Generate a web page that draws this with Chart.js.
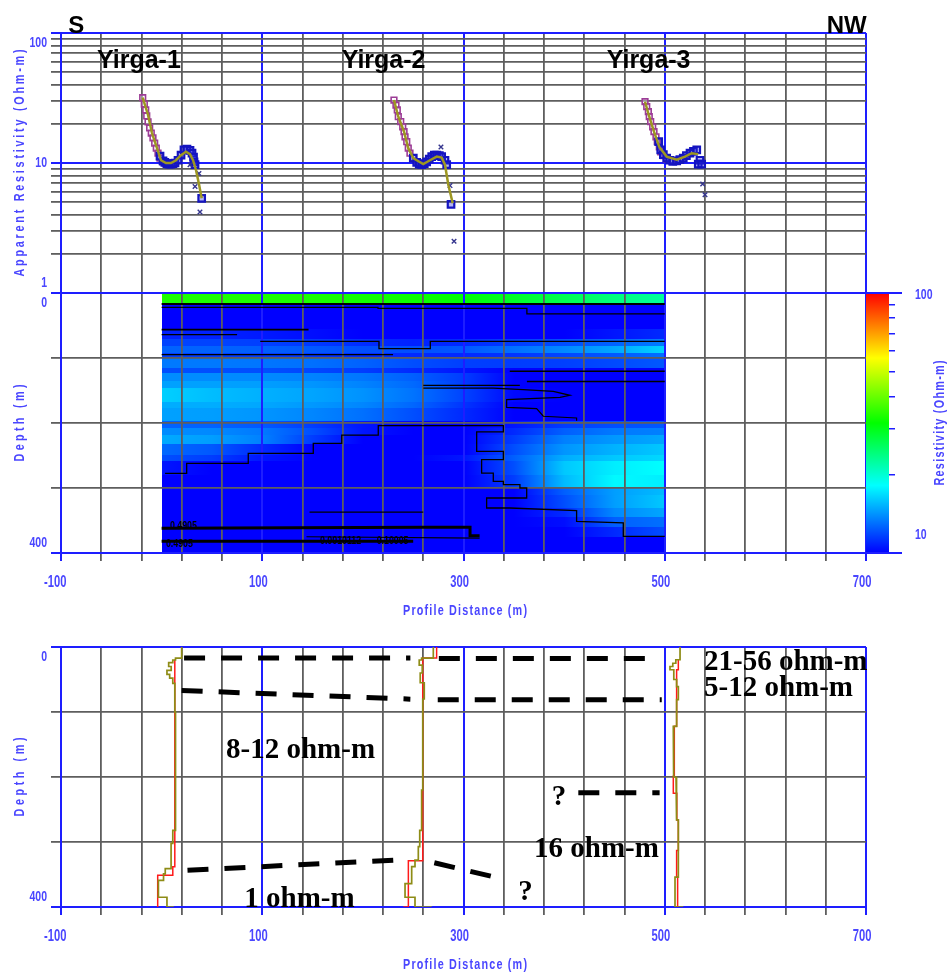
<!DOCTYPE html>
<html>
<head>
<meta charset="utf-8">
<script src="https://cdn.jsdelivr.net/npm/chart.js@4.4.1/dist/chart.umd.min.js"></script>
<style>
  html, body { margin: 0; padding: 0; background: #ffffff; }
  #wrap { position: relative; width: 949px; height: 974px; overflow: hidden; background: #ffffff; }
  canvas { position: absolute; left: 0; }
</style>
</head>
<body>
<div id="wrap">
  <canvas id="topChart" width="949" height="300" style="top:0px"></canvas>
  <canvas id="midChart" width="949" height="340" style="top:283px"></canvas>
  <canvas id="botChart" width="949" height="351" style="top:623px"></canvas>
</div>
<script>
// ---------- axes ----------
const X_GRID = [-100,-60,-20,20,60,100,140,180,220,260,300,340,380,420,460,500,540,580,620,660,700];
const X_LABELED = [-100,100,300,500,700];
const RHO_TICKS = [1,2,3,4,5,6,7,8,9,10,20,30,40,50,60,70,80,90,100];
const RHO_LABELED = [1,10,100];
const DEPTH_TICKS = [0,100,200,300,400];
const DEPTH_LABELED = [0,400];
const CBAR_TICKS = [10,20,30,40,50,60,70,80,90,100];
const CBAR_LABELED = [10,100];

// ---------- sounding curves: [profile distance (m), apparent resistivity (ohm-m)] ----------
const Y1_EARLY = [[-18.8,31.8],[-17.2,28.4],[-15.8,25.6],[-14.8,23.0],[-13.5,20.7],[-11.9,18.6],[-10.3,17.0],[-8.6,15.6],[-6.9,14.2],[-5.3,13.0],[-3.6,11.9],[-1.6,10.9],[1.1,10.2],[4.3,9.9]];
const Y1_LATE = [[-1.6,11.3],[1.4,10.4],[3.2,10.1],[5.3,9.9],[7.3,9.8],[9.3,9.8],[11.3,9.9],[13.3,10.0],[16.3,10.5],[19.3,11.5],[22.2,12.6],[25.2,12.8],[28.2,12.5],[30.2,11.9],[31.7,11.1],[32.2,10.2],[33.2,9.7],[39.8,5.35]];
const Y1_MODEL = [[-18.8,31.8],[-13.5,23.4],[-9.6,17.0],[-4.6,13.0],[-0.6,10.5],[4.3,10.0],[9.3,10.0],[14.3,10.5],[19.3,11.5],[24.2,12.2],[28.2,11.7],[31.2,10.5],[34.2,8.8],[37.1,6.9],[39.8,5.35]];
const Y1_CROSS = [[28.2,9.7],[37.1,8.3],[33.2,6.6],[38.1,4.2]];

const Y2_EARLY = [[230.9,30.5],[232.9,27.9],[234.2,25.6],[235.2,22.7],[237.6,20.8],[239.6,19.0],[240.9,17.4],[241.9,15.9],[243.6,14.6],[245.1,13.0],[246.8,11.9],[250.1,10.9],[253.5,10.1],[258.5,9.7]];
const Y2_LATE = [[250.1,10.9],[253.5,10.1],[256.0,9.8],[258.5,9.7],[261.0,9.9],[263.4,10.2],[266.0,10.7],[268.4,11.2],[271.0,11.5],[273.4,11.5],[276.0,11.4],[278.3,11.2],[281.6,10.5],[283.3,9.7],[287.6,4.8]];
const Y2_MODEL = [[230.9,30.5],[235.2,22.7],[240.9,17.4],[245.1,13.0],[250.1,10.9],[253.5,10.5],[260.0,9.8],[266.7,10.5],[273.4,11.2],[278.3,11.0],[281.6,9.7],[284.9,6.8],[289.3,4.9]];
const Y2_CROSS = [[277.6,13.3],[286.6,6.7],[290.6,2.5]];

const Y3_EARLY = [[480.4,29.6],[482.1,27.1],[483.7,24.8],[484.6,22.7],[486.0,20.8],[488.0,19.0],[489.3,17.4],[491.3,15.9],[492.6,14.6],[494.6,13.3],[496.0,12.2],[498.6,11.4],[501.9,10.7],[506.9,10.4]];
const Y3_LATE = [[494.0,14.6],[496.0,12.6],[498.6,11.6],[501.9,10.9],[505.0,10.5],[508.0,10.3],[511.9,10.4],[515.0,10.6],[518.4,10.9],[521.5,11.4],[525.1,11.9],[528.5,12.3],[531.8,12.6],[535.0,10.5],[533.3,9.8],[536.7,9.8]];
const Y3_MODEL = [[480.4,29.6],[484.6,22.7],[489.3,17.4],[494.6,13.3],[501.9,11.2],[511.9,10.6],[520.1,11.2],[526.8,11.9],[533.3,11.7]];
const Y3_CROSS = [[537.7,6.9],[540.0,5.7]];

// ---------- resistivity section: layer depth edges (m), profile nodes (m), resistivity (ohm-m) ----------
const DEPTH_EDGES = [0,15,55,70,82,92,100,115,123,136,146,167,177,197,207,218,233,249,259,280,300,310,330,345,360,375,400];
const X_NODES = [0,50,100,150,200,250,300,350,400,450,500];
const RHO_GRID = [
  [33.8,33.8,33.8,33.5,33.0,32.5,31.5,29.0,26.5,24.0,22.5],
  [9,9,9,9,9,9,9,9,9,9,9],
  [10.8,10.8,10.6,10.3,10,10,10,10,10,10.5,11],
  [11.7,11.7,11.6,11.4,11.1,10.8,11,11.5,12,12.6,13.4],
  [12.6,12.6,12.5,12.3,12,12,12.3,13,13.8,14.8,16.5],
  [11.5,11.5,11.5,11.3,11,11,11,11.3,11.8,12.3,13],
  [13.3,13.3,13.2,13,12.6,12,11.6,11.5,11.6,11.9,12.3],
  [12,12,12,11.8,11.5,11,10.5,10,9.5,9.5,9.5],
  [13.9,13.9,13.8,13.6,13.2,12.5,11.5,10,9.5,9.5,9.5],
  [14.6,14.6,14.5,14.2,13.6,12.8,11.5,10,9.5,9.5,9.5],
  [16.3,15.6,15.1,14.7,14.1,13.1,11.7,10.2,9.5,9.5,9.5],
  [15,15,14.8,14.3,13.7,12.7,11.3,10,9.5,9.5,9.5],
  [14.6,14.5,14.2,13.7,13,12,11,10,9.5,9.5,9.5],
  [12.6,12.6,12.3,11.5,10.5,10,10,10.5,11.5,12,12.3],
  [13.9,13.8,13.3,12,10.5,10,10,11,12.5,13.3,13.5],
  [14.9,14.5,13.5,11.5,10,10,10,11.5,13.5,14.3,14.8],
  [12.8,12.3,11,10,10,10,10,12,14.2,15.2,16],
  [12,11.5,10.5,10,10,10,10.5,12.5,15,16,16.6],
  [10.5,10,10,10,10,10,10,12,16,17.5,18.2],
  [9.5,9.5,9.5,9.5,9.5,9.5,10,11.5,15.5,18,17.5],
  [9.5,9.5,9.5,9.5,9.5,9.5,9.5,10,12.5,14.5,15.5],
  [9.5,9.5,9.5,9.5,9.5,9.5,9.5,10,12,14.5,16],
  [9.5,9.5,9.5,9.5,9.5,9.5,9.5,9.5,11,13.8,14.8],
  [9.5,9.5,9.5,9.5,9.5,9.5,9.5,9.5,10.3,12.5,13],
  [9.5,9.5,9.5,9.5,9.5,9.5,9.5,9.5,9.5,11,12],
  [9,9,9,9,9,9,9,9,9,9,9]
];

// ---------- iso-resistivity contours: [profile distance, depth] ----------
const CONTOUR_A = [[0,17],[500,17]];
const CONTOUR_B = [[0,22],[215,22],[215,23.5],[363,23.5],[363,32],[500,32]];
const CONTOUR_C = [[0,56.4],[146,56.4]];
const CONTOUR_D = [[0,64],[75,64]];
const CONTOUR_E = [[98,74.4],[216,74.4],[216,85.6],[267,85.6],[267,74.4],[500,74.4]];
const CONTOUR_F = [[0,94.9],[230,94.9]];
const CONTOUR_G = [[346,120.5],[500,120.5]];
const CONTOUR_H = [[363,136],[500,136]];
const CONTOUR_I = [[260,142],[356,142]];
const CONTOUR_J = [[260.1,146.2],[329.6,146.2],[359.4,148.7],[389.3,151.3],[405.8,157.4],[395.9,160.5],[342.9,164.1],[342.9,175.9],[372.7,177.9],[379.3,189.6],[412.4,192.3],[412.4,196.4]];
const CONTOUR_K = [[3.4,277.4],[24.9,277.4],[24.9,262],[86.1,262],[86.1,246.6],[150.7,246.6],[150.7,231.2],[179,231.2],[179,218.5],[215.3,218.5],[215.3,204],[339.6,204],[339.6,213.8],[313.1,213.8],[313.1,243.6],[339.6,243.6],[339.6,256.4],[318,256.4],[318,277],[329.6,277],[329.6,289.8],[339.6,289.8],[339.6,294.9],[356.1,294.9],[356.1,300],[362.8,300],[362.8,315.4],[323,315.4],[323,330.8],[346.2,330.8],[412.4,334.9],[412.4,351.3],[458.8,353.8],[458.8,374.4],[500,374.4]];
const CONTOUR_L = [[0,362],[263,360.5],[306.5,360.5],[306.5,373.3],[316,373.3]];
const CONTOUR_M = [[0,382],[250,382]];
const CONTOUR_N = [[144,375],[316,377]];
const CONTOUR_O = [[147,337],[260,337]];
const CONTOUR_TAGS = [
  { text: '0.4905', x: 8.3, d: 357.7 },
  { text: '0.4905', x: 4.3, d: 386 },
  { text: '0.0010112', x: 157.4, d: 380.8 },
  { text: '0.10005', x: 213.7, d: 380.8 }
];

// ---------- layered-model logs: [profile distance, depth] ----------
const Y1_LOG_A = [[19.9,0],[19.9,17],[13.8,17],[13.8,20],[11.1,20],[11.1,24],[7,24],[7,30],[9.5,30],[9.5,36],[5.3,36],[5.3,42],[8,42],[8,48],[11.1,48],[11.1,56],[13.1,56],[13.1,100],[13.8,100],[13.8,282],[11.1,282],[11.1,302],[9.4,302],[9.4,341],[3.6,341],[3.6,349],[1.9,349],[1.9,359],[-3.2,359],[-3.2,385],[5.3,385],[5.3,400],[12.1,400]];
const Y1_LOG_B = [[13.1,19.5],[13.1,338],[11.1,338],[11.1,351],[-3.9,351],[-3.9,400]];
const Y2_LOG_A = [[270,0],[270,17],[258.4,17],[258.4,20],[256,20],[256,28],[259,28],[259,40],[257,40],[257,55],[261,55],[261,80],[259.5,80],[259.5,220],[258.4,220],[258.4,282],[256.5,282],[256.5,307],[255.1,307],[255.1,328],[251.8,328],[251.8,338],[248.5,338],[248.5,364],[241.9,364],[241.9,385],[251.8,385],[251.8,400],[268.4,400]];
const Y2_LOG_B = [[273.3,0],[273.3,17],[259.5,17],[259.5,329],[245.2,329],[245.2,400],[240.2,400]];
const Y3_LOG_A = [[515.2,0],[515.2,19.6],[511,19.6],[511,25],[508,25],[508,30],[505.2,30],[505.2,35],[509,35],[509,50],[511.8,50],[511.8,61],[513.5,61],[513.5,81],[511.8,81],[511.8,122],[508.5,122],[508.5,148],[509,148],[509,200],[511.2,200],[511.2,225],[512,225],[512,266],[513.5,266],[513.5,354],[510.2,354],[510.2,400],[518.4,400]];
const Y3_LOG_B = [[513.5,19.6],[513.5,35],[511.8,35],[511.8,122],[509.5,122],[509.5,199],[508.5,199],[508.5,225],[512,225],[512,266],[513.5,266],[513.5,313],[511.8,313],[511.8,354],[512.8,354],[512.8,400]];

// ---------- interpreted layer boundaries ----------
const BOUND_1A = [[22.3,17],[247.2,17]];
const BOUND_1B = [[275.5,17.5],[482,17.5]];
const BOUND_2A = [[19.9,66.8],[247.2,80.2]];
const BOUND_2B = [[274.4,81.2],[497,81.2]];
const BOUND_3A = [[25.7,343.4],[231.2,328]];
const BOUND_3B = [[271.0,332],[327.3,352.6]];
const BOUND_4 = [[414.1,224.1],[494.9,224.1]];

// ---------- annotations ----------
const STATION_NAMES = [
  { text: 'Yirga-1', x: -64.2, rho: 53.8 },
  { text: 'Yirga-2', x: 178.9, rho: 53.8 },
  { text: 'Yirga-3', x: 442.3, rho: 53.8 }
];
const DIRECTIONS = [
  { text: 'S', x: -92.7, rho: 100.5 },
  { text: 'NW', x: 660.9, rho: 100.5 }
];
const LAYER_NOTES = [
  { text: '21-56 ohm-m', x: 539.0, d: 35.0 },
  { text: '5-12 ohm-m', x: 539.0, d: 75.1 },
  { text: '8-12 ohm-m', x: 64.0, d: 171.2 },
  { text: '1 ohm-m', x: 82.2, d: 400.5 },
  { text: '16 ohm-m', x: 370.1, d: 322.9 },
  { text: '?', x: 387.6, d: 243.2 },
  { text: '?', x: 354.5, d: 389.7 }
];

// ---------- styling ----------
const SANS = "'Liberation Sans', Arial, sans-serif";
const SERIF = "'Liberation Serif', 'Times New Roman', serif";
const AXIS_BLUE = '#1e1eff';
const GRID_GRAY = '#5e5e5e';
const LABEL_BLUE = '#4a46ff';

const STOPS = [[0,[0,0,255]],[0.26,[0,255,255]],[0.5,[0,255,0]],[0.75,[255,255,0]],[1,[255,0,0]]];
function resistivityColor(v) {
  let t = Math.log10(v) - 1;
  t = Math.max(0, Math.min(1, t));
  for (let i = 1; i < STOPS.length; i++) {
    if (t <= STOPS[i][0]) {
      const [t0, c0] = STOPS[i-1], [t1, c1] = STOPS[i];
      const f = (t - t0) / (t1 - t0);
      const c = c0.map((a, k) => Math.round(a + (c1[k] - a) * f));
      return `rgb(${c[0]},${c[1]},${c[2]})`;
    }
  }
  return 'rgb(255,0,0)';
}

function pts(arr) { return arr.map(p => ({ x: p[0], y: p[1] })); }

function drawText(ctx, text, x, y, o) {
  ctx.save();
  ctx.font = `${o.weight || 'bold'} ${o.size}px ${o.family || SANS}`;
  ctx.fillStyle = o.color || '#000';
  ctx.textBaseline = o.baseline || 'middle';
  ctx.textAlign = 'left';
  ctx.translate(x, y);
  if (o.rot) ctx.rotate(o.rot);
  const sx = o.sx || 1;
  ctx.scale(sx, 1);
  let w = ctx.measureText(text).width;
  if (o.width && text.length > 1) {
    const extra = (o.width / sx - w) / (text.length - 1);
    ctx.letterSpacing = extra + 'px';
    w = o.width / sx;
  }
  const align = o.align || 'center';
  const x0 = align === 'center' ? -w / 2 : (align === 'right' ? -w : 0);
  ctx.fillText(text, x0, 0);
  ctx.restore();
}

function fixedTicks(list) { return s => { s.ticks = list.map(v => ({ value: v })); }; }
function lineColor(blue) { return c => (c.tick && blue.includes(c.tick.value)) ? AXIS_BLUE : GRID_GRAY; }
function lineWidth(blue) { return c => (c.tick && blue.includes(c.tick.value)) ? 2 : 1.8; }

function xAxis(height, drawTicks) {
  return {
    type: 'linear', min: -100, max: 700,
    afterBuildTicks: fixedTicks(X_GRID),
    afterFit: s => { s.height = height; },
    ticks: { display: false },
    grid: { color: lineColor(X_LABELED), tickColor: lineColor(X_LABELED), lineWidth: lineWidth(X_LABELED), drawTicks: drawTicks, tickLength: 8 },
    border: { color: AXIS_BLUE, width: 2 }
  };
}
function depthAxis() {
  return {
    type: 'linear', min: 0, max: 400, reverse: true,
    afterBuildTicks: fixedTicks(DEPTH_TICKS),
    afterFit: s => { s.width = 61; },
    ticks: { display: false },
    grid: { color: lineColor(DEPTH_LABELED), tickColor: lineColor(DEPTH_LABELED), lineWidth: lineWidth(DEPTH_LABELED), tickLength: 10 },
    border: { color: AXIS_BLUE, width: 2 }
  };
}

// tick labels and axis titles drawn from the chart scales
function axisTextPlugin(opts) {
  return {
    id: 'axisText',
    afterDraw(chart) {
      const ctx = chart.ctx, area = chart.chartArea;
      const xs = chart.scales.x, ys = chart.scales.y;
      if (opts.xLabels) {
        X_LABELED.forEach(v => drawText(ctx, String(v), xs.getPixelForValue(v) + 5.5, area.bottom + 30,
          { size: 16, sx: 0.7, align: 'right', color: LABEL_BLUE }));
        drawText(ctx, 'Profile Distance (m)', (area.left + area.right) / 2 + 1.5, area.bottom + 57.5,
          { size: 15, sx: 0.72, width: 124, color: LABEL_BLUE });
      }
      opts.yLabels.forEach(v => {
        let py = ys.getPixelForValue(v);
        if (Math.abs(py - area.top) < 1) py += 9.5;
        else if (Math.abs(py - area.bottom) < 1) py -= 10;
        drawText(ctx, String(v), area.left - 14, py, { size: 15, sx: 0.7, align: 'right', color: LABEL_BLUE });
      });
      drawText(ctx, opts.yTitle, 20, (area.top + area.bottom) / 2,
        { size: 15, sx: 0.72, width: opts.yTitleWidth, rot: -Math.PI / 2, color: LABEL_BLUE });
    }
  };
}

Chart.defaults.animation = false;
Chart.defaults.font.family = SANS;
const noExtras = { legend: { display: false }, tooltip: { enabled: false } };

// ================= apparent resistivity curves =================
function soundingSets(early, late, model, cross) {
  return [
    { data: pts(model), showLine: true, borderColor: '#9d9722', borderWidth: 2.5, pointRadius: 0, order: 0 },
    { data: pts(cross), pointStyle: 'crossRot', pointRadius: 3.2, borderColor: '#35358e', borderWidth: 1.4, backgroundColor: 'transparent', order: 0 },
    { data: pts(early), pointStyle: 'rect', pointRadius: 4, borderColor: '#9c3c96', borderWidth: 1.6, backgroundColor: 'rgba(255,255,255,0.35)', order: 2 },
    { data: pts(late), pointStyle: 'rect', pointRadius: 4.6, borderColor: '#1414c0', borderWidth: 2.2, backgroundColor: 'rgba(40,40,220,0.35)', order: 1 }
  ];
}

new Chart(document.getElementById('topChart'), {
  type: 'scatter',
  data: { datasets: [
    ...soundingSets(Y1_EARLY, Y1_LATE, Y1_MODEL, Y1_CROSS),
    ...soundingSets(Y2_EARLY, Y2_LATE, Y2_MODEL, Y2_CROSS),
    ...soundingSets(Y3_EARLY, Y3_LATE, Y3_MODEL, Y3_CROSS)
  ] },
  options: {
    responsive: false,
    layout: { padding: { top: 33, right: 83, left: 0, bottom: 0 } },
    plugins: noExtras,
    scales: {
      x: xAxis(7, false),
      y: {
        type: 'logarithmic', min: 1, max: 100,
        afterBuildTicks: fixedTicks(RHO_TICKS),
        afterFit: s => { s.width = 61; },
        ticks: { display: false },
        grid: { color: lineColor(RHO_LABELED), tickColor: lineColor(RHO_LABELED), lineWidth: lineWidth(RHO_LABELED), tickLength: 10 },
        border: { color: AXIS_BLUE, width: 2 }
      }
    }
  },
  plugins: [
    axisTextPlugin({ xLabels: false, yLabels: RHO_LABELED, yTitle: 'Apparent Resistivity (Ohm-m)', yTitleWidth: 227 }),
    {
      id: 'stationNames',
      afterDraw(chart) {
        const { ctx, scales: { x, y } } = chart;
        STATION_NAMES.forEach(n => drawText(ctx, n.text, x.getPixelForValue(n.x), y.getPixelForValue(n.rho),
          { size: 25, align: 'left', baseline: 'alphabetic', color: '#000' }));
        DIRECTIONS.forEach(n => drawText(ctx, n.text, x.getPixelForValue(n.x), y.getPixelForValue(n.rho),
          { size: 24, align: 'left', baseline: 'alphabetic', color: '#000' }));
      }
    }
  ]
});

// ================= resistivity section =================
const contourSet = (arr, w) => ({ data: pts(arr), showLine: true, borderColor: '#000000', borderWidth: w, pointRadius: 0 });

new Chart(document.getElementById('midChart'), {
  type: 'scatter',
  data: { datasets: [
    contourSet(CONTOUR_A, 2), contourSet(CONTOUR_B, 1.3), contourSet(CONTOUR_C, 1.6), contourSet(CONTOUR_D, 1.3),
    contourSet(CONTOUR_E, 1.3), contourSet(CONTOUR_F, 1.3), contourSet(CONTOUR_G, 1.5), contourSet(CONTOUR_H, 1.5),
    contourSet(CONTOUR_I, 1.2), contourSet(CONTOUR_J, 1.2), contourSet(CONTOUR_K, 1.3), contourSet(CONTOUR_L, 3),
    contourSet(CONTOUR_M, 3), contourSet(CONTOUR_N, 1.2), contourSet(CONTOUR_O, 1.2)
  ] },
  options: {
    responsive: false,
    layout: { padding: { top: 10, right: 0, left: 0, bottom: 0 } },
    plugins: noExtras,
    scales: {
      x: xAxis(70, true),
      y: depthAxis(),
      cbar: {
        type: 'logarithmic', position: 'right', min: 10, max: 100, display: true,
        afterBuildTicks: fixedTicks(CBAR_TICKS),
        afterFit: s => { s.width = 83; },
        ticks: { display: false },
        grid: { drawOnChartArea: false, color: AXIS_BLUE, tickColor: AXIS_BLUE, lineWidth: 1.5, tickLength: 29 },
        border: { display: false }
      }
    }
  },
  plugins: [
    {
      id: 'section',
      beforeDraw(chart) {
        const { ctx, scales: { x, y } } = chart;
        const x0 = X_NODES[0], x1 = X_NODES[X_NODES.length - 1];
        const left = Math.round(x.getPixelForValue(x0)), right = Math.round(x.getPixelForValue(x1));
        RHO_GRID.forEach((row, r) => {
          const top = Math.round(y.getPixelForValue(DEPTH_EDGES[r]));
          const bot = Math.round(y.getPixelForValue(DEPTH_EDGES[r + 1]));
          const g = ctx.createLinearGradient(left, 0, right, 0);
          X_NODES.forEach((xv, i) => g.addColorStop((xv - x0) / (x1 - x0), resistivityColor(row[i])));
          ctx.fillStyle = g;
          ctx.fillRect(left, top, right - left, bot - top);
        });
      },
      afterDatasetsDraw(chart) {
        const { ctx, scales: { x, y } } = chart;
        CONTOUR_TAGS.forEach(t => drawText(ctx, t.text, x.getPixelForValue(t.x), y.getPixelForValue(t.d),
          { size: 11, sx: 0.8, align: 'left', color: '#000' }));
      },
      afterDraw(chart) {
        const { ctx } = chart;
        const cb = chart.scales.cbar;
        const top = cb.getPixelForValue(100), bot = cb.getPixelForValue(10);
        const left = cb.left, w = 23;
        const g = ctx.createLinearGradient(0, bot, 0, top);
        STOPS.forEach(([t, c]) => g.addColorStop(t, `rgb(${c[0]},${c[1]},${c[2]})`));
        ctx.fillStyle = g;
        ctx.fillRect(left, top, w, bot - top);
        ctx.strokeStyle = AXIS_BLUE;
        ctx.lineWidth = 2;
        ctx.beginPath();
        ctx.moveTo(left, top); ctx.lineTo(left + 36, top);
        ctx.moveTo(left, bot); ctx.lineTo(left + 36, bot);
        ctx.stroke();
        CBAR_LABELED.forEach(v => {
          const py = cb.getPixelForValue(v) + (v === 100 ? 2 : -18);
          drawText(ctx, String(v), left + 49, py, { size: 15, sx: 0.7, align: 'left', color: LABEL_BLUE });
        });
        drawText(ctx, 'Resistivity (Ohm-m)', left + 74, (top + bot) / 2,
          { size: 15, sx: 0.72, width: 125, rot: -Math.PI / 2, color: LABEL_BLUE });
      }
    },
    axisTextPlugin({ xLabels: true, yLabels: DEPTH_LABELED, yTitle: 'Depth (m)', yTitleWidth: 77 })
  ]
});

// ================= interpreted logs =================
const logSet = (arr, color, w, order) => ({ data: pts(arr), showLine: true, borderColor: color, borderWidth: w, pointRadius: 0, order });
const boundSet = arr => ({ data: pts(arr), showLine: true, borderColor: '#000000', borderWidth: 5, borderDash: [21, 16], borderCapStyle: 'butt', pointRadius: 0, order: 0 });

new Chart(document.getElementById('botChart'), {
  type: 'scatter',
  data: { datasets: [
    logSet(Y1_LOG_B, '#ff1a1a', 1.5, 3), logSet(Y1_LOG_A, '#8e8c16', 1.7, 2),
    logSet(Y2_LOG_B, '#ff1a1a', 1.5, 3), logSet(Y2_LOG_A, '#8e8c16', 1.7, 2),
    logSet(Y3_LOG_B, '#ff1a1a', 1.5, 3), logSet(Y3_LOG_A, '#8e8c16', 1.7, 2),
    boundSet(BOUND_1A), boundSet(BOUND_1B), boundSet(BOUND_2A), boundSet(BOUND_2B),
    boundSet(BOUND_3A), boundSet(BOUND_3B), boundSet(BOUND_4)
  ] },
  options: {
    responsive: false,
    layout: { padding: { top: 24, right: 83, left: 0, bottom: 0 } },
    plugins: noExtras,
    scales: { x: xAxis(67, true), y: depthAxis() }
  },
  plugins: [
    axisTextPlugin({ xLabels: true, yLabels: DEPTH_LABELED, yTitle: 'Depth (m)', yTitleWidth: 79 }),
    {
      id: 'layerNotes',
      afterDraw(chart) {
        const { ctx, scales: { x, y } } = chart;
        LAYER_NOTES.forEach(n => drawText(ctx, n.text, x.getPixelForValue(n.x), y.getPixelForValue(n.d),
          { size: 29, family: SERIF, align: 'left', baseline: 'alphabetic', color: '#000' }));
      }
    }
  ]
});
</script>
</body>
</html>
